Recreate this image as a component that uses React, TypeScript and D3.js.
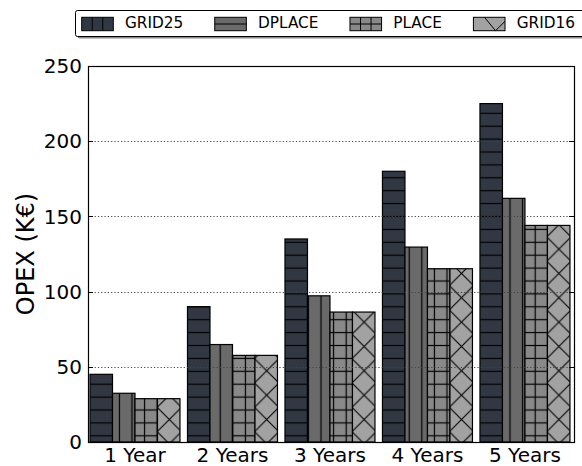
import React, { useEffect, useRef } from 'react';
import * as d3 from 'd3';

const categories = ['1 Year', '2 Years', '3 Years', '4 Years', '5 Years'];
const seriesNames = ['GRID25', 'DPLACE', 'PLACE', 'GRID16'];
const grid25 = [45, 90, 135, 180, 225];
const dplace = [32.4, 64.8, 97.2, 129.6, 162];
const place = [28.8, 57.6, 86.4, 115.2, 144];
const grid16 = [28.8, 57.6, 86.4, 115.2, 144];
const yTicks = [0, 50, 100, 150, 200, 250];
const yLabel = 'OPEX (K€)';

const seriesValues = [grid25, dplace, place, grid16];
const colors = ['#323843', '#6a6a6a', '#898989', '#a2a2a2'];
const hatchIds = ['hatchH', 'hatchV', 'hatchPlus', 'hatchX'];

const W = 582;
const H = 466;
const L = 88, R = 574, T = 66, B = 442;
const FONT = 'DejaVu Sans, sans-serif';

export default function App() {
  const ref = useRef<SVGSVGElement | null>(null);

  useEffect(() => {
    const svg = d3.select(ref.current);
    svg.selectAll('*').remove();

    const defs = svg.append('defs');
    const hs = 12.9; // horizontal hatch spacing
    const vs = 12.6; // vertical hatch spacing
    // horizontal lines
    const pH = defs.append('pattern').attr('id', 'hatchH').attr('patternUnits', 'userSpaceOnUse')
      .attr('width', 20).attr('height', hs).attr('x', 0).attr('y', 113.3 - hs / 2);
    pH.append('line').attr('x1', 0).attr('x2', 20).attr('y1', hs / 2).attr('y2', hs / 2)
      .attr('stroke', '#000').attr('stroke-width', 1.2);
    // vertical lines
    const pV = defs.append('pattern').attr('id', 'hatchV').attr('patternUnits', 'userSpaceOnUse')
      .attr('width', vs).attr('height', 20).attr('x', 510 - vs / 2).attr('y', 0);
    pV.append('line').attr('x1', vs / 2).attr('x2', vs / 2).attr('y1', 0).attr('y2', 20)
      .attr('stroke', '#000').attr('stroke-width', 1.2);
    // plus
    const pP = defs.append('pattern').attr('id', 'hatchPlus').attr('patternUnits', 'userSpaceOnUse')
      .attr('width', vs).attr('height', hs).attr('x', 510 - vs / 2).attr('y', 113.3 - hs / 2);
    pP.append('line').attr('x1', vs / 2).attr('x2', vs / 2).attr('y1', 0).attr('y2', hs)
      .attr('stroke', '#000').attr('stroke-width', 1.2);
    pP.append('line').attr('x1', 0).attr('x2', vs).attr('y1', hs / 2).attr('y2', hs / 2)
      .attr('stroke', '#000').attr('stroke-width', 1.2);
    // X
    const xs = 24.35;
    const pX = defs.append('pattern').attr('id', 'hatchX').attr('patternUnits', 'userSpaceOnUse')
      .attr('width', xs).attr('height', xs).attr('x', 169.3 - xs / 2).attr('y', 419.5 - xs / 2);
    pX.append('path').attr('d', `M0,0L${xs},${xs}M${xs},0L0,${xs}M-2,${xs - 2}L2,${xs + 2}M${xs - 2},-2L${xs + 2},2M-2,2L2,-2M${xs - 2},${xs + 2}L${xs + 2},${xs - 2}`)
      .attr('stroke', '#000').attr('stroke-width', 1.1).attr('fill', 'none');

    const x0 = d3.scaleBand<string>().domain(categories).range([L, R])
      .paddingInner(0.077).paddingOuter(0.031).align(0.33);
    const x1 = d3.scaleBand<string>().domain(seriesNames).range([0, x0.bandwidth()]);
    const y = d3.scaleLinear().domain([0, 250]).range([B, T]);

    // bars
    seriesNames.forEach((s, si) => {
      const g = svg.append('g');
      const data = categories.map((c, ci) => ({ c, v: seriesValues[si][ci] }));
      g.selectAll('rect.fill').data(data).enter().append('rect')
        .attr('x', d => (x0(d.c) as number) + (x1(s) as number))
        .attr('y', d => y(d.v))
        .attr('width', x1.bandwidth())
        .attr('height', d => B - y(d.v))
        .attr('fill', colors[si]);
      g.selectAll('rect.hatch').data(data).enter().append('rect')
        .attr('x', d => (x0(d.c) as number) + (x1(s) as number))
        .attr('y', d => y(d.v))
        .attr('width', x1.bandwidth())
        .attr('height', d => B - y(d.v))
        .attr('fill', `url(#${hatchIds[si]})`)
        .attr('stroke', '#000').attr('stroke-width', 1.2);
    });

    // grid lines
    yTicks.filter(t => t > 0 && t < 250).forEach(t => {
      svg.append('line').attr('x1', L).attr('x2', R).attr('y1', Math.round(y(t)) + 0.5).attr('y2', Math.round(y(t)) + 0.5)
        .attr('stroke', '#444').attr('stroke-width', 1).attr('stroke-dasharray', '1.2,2.1');
    });

    // spines
    svg.append('rect').attr('x', L + 0.5).attr('y', T + 0.5).attr('width', R - L).attr('height', B - T)
      .attr('fill', 'none').attr('stroke', '#000').attr('stroke-width', 1.2);

    // y ticks
    yTicks.forEach(t => {
      const yy = Math.round(y(t)) + 0.5;
      svg.append('line').attr('x1', L).attr('x2', L + 5).attr('y1', yy).attr('y2', yy).attr('stroke', '#000');
      svg.append('line').attr('x1', R - 5).attr('x2', R).attr('y1', yy).attr('y2', yy).attr('stroke', '#000');
      svg.append('text').attr('x', 82).attr('y', y(t)).attr('dy', '0.36em')
        .attr('text-anchor', 'end').attr('font-family', FONT).attr('font-size', 20).attr('fill', '#000')
        .text(String(t));
    });

    // x tick labels
    categories.forEach(c => {
      svg.append('text').attr('x', (x0(c) as number) + x0.bandwidth() / 2).attr('y', 462)
        .attr('text-anchor', 'middle').attr('font-family', FONT).attr('font-size', 20).attr('fill', '#000')
        .text(c);
    });

    // y label
    svg.append('text').attr('transform', `translate(34,${(T + B) / 2}) rotate(-90)`)
      .attr('text-anchor', 'middle').attr('font-family', FONT).attr('font-size', 24).attr('fill', '#000')
      .text(yLabel);

    // legend
    const lg = svg.append('g');
    lg.append('rect').attr('x', 77.5).attr('y', 12.5).attr('width', 530).attr('height', 26)
      .attr('fill', '#888').attr('rx', 2);
    lg.append('rect').attr('x', 75.5).attr('y', 10.5).attr('width', 530).attr('height', 26)
      .attr('fill', '#fff').attr('stroke', '#000').attr('stroke-width', 1).attr('rx', 2);
    let cx = 81.7;
    const pw = 31.6, ph = 13.4, py = 17.3;
    seriesNames.forEach((s, si) => {
      const gi = lg.append('g');
      gi.append('rect').attr('x', cx).attr('y', py).attr('width', pw).attr('height', ph)
        .attr('fill', colors[si]).attr('stroke', '#000').attr('stroke-width', 1);
      const p = d3.path();
      if (si === 0) {
        p.moveTo(cx + pw / 3, py); p.lineTo(cx + pw / 3, py + ph);
        p.moveTo(cx + 2 * pw / 3, py); p.lineTo(cx + 2 * pw / 3, py + ph);
      } else if (si === 1) {
        p.moveTo(cx, py + ph / 2); p.lineTo(cx + pw, py + ph / 2);
      } else if (si === 2) {
        p.moveTo(cx, py + ph / 2); p.lineTo(cx + pw, py + ph / 2);
        p.moveTo(cx + pw / 3, py); p.lineTo(cx + pw / 3, py + ph);
        p.moveTo(cx + 2 * pw / 3, py); p.lineTo(cx + 2 * pw / 3, py + ph);
      } else {
        p.moveTo(cx + pw * 0.35, py); p.lineTo(cx + pw * 0.7, py + ph); p.lineTo(cx + pw, py + ph * 0.3);
      }
      gi.append('path').attr('d', p.toString()).attr('stroke', '#000').attr('stroke-width', 1).attr('fill', 'none');
      const tx = gi.append('text').attr('x', cx + pw + 11.7).attr('y', 28.3)
        .attr('font-family', FONT).attr('font-size', 15.3).attr('fill', '#000').text(s);
      const tw = (tx.node() as SVGTextElement).getComputedTextLength();
      cx = cx + pw + 11.7 + tw + 31.5;
    });
  }, []);

  return (
    <svg ref={ref} width={W} height={H} style={{ position: 'absolute', left: 0, top: 0, background: '#fff' }} />
  );
}
